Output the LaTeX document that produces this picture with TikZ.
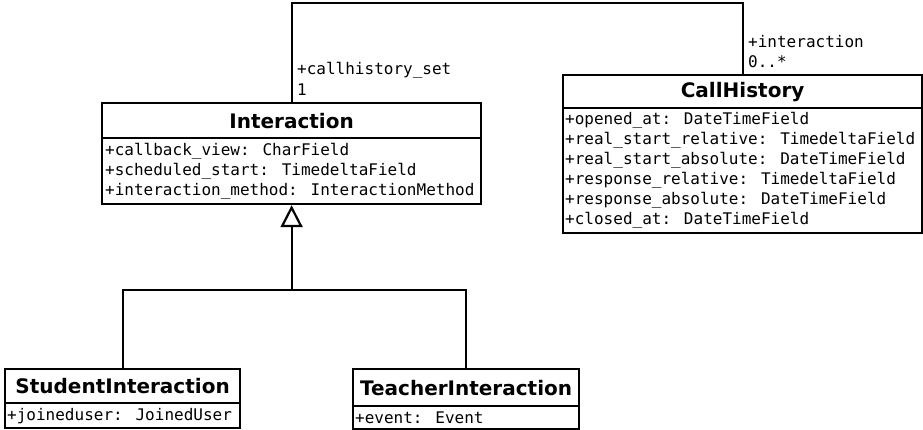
\documentclass[tikz,border=0pt]{standalone}
\usepackage{fontspec}
\usetikzlibrary{arrows.meta}
\newfontfamily\monof{DejaVu Sans Mono}
\newfontfamily\titlef{DejaVu Sans}
\begin{document}
\begin{tikzpicture}[x=1pt,y=-1pt,
  ln/.style={line width=2.2pt,black},
  hdr/.style={draw,ln,rectangle,anchor=north west,inner sep=0pt,font=\titlef\bfseries\fontsize{20}{24}\selectfont},
  bodybox/.style={draw,ln,rectangle,anchor=north west,inner sep=0pt},
  attrs/.style={anchor=west,inner sep=0pt,align=left,font=\monof\fontsize{16}{20}\selectfont},
  lbl/.style={anchor=west,inner sep=0pt,font=\monof\fontsize{16}{20}\selectfont},
  gen/.style={ln,-{Triangle[open,length=22pt,width=22pt,line width=2.2pt]}}
]
\useasboundingbox (0,0) rectangle (923,430);
% Interaction
\node[hdr,minimum width=379pt,minimum height=35pt] (ih) at (101,102) {Interaction};
\node[bodybox,minimum width=379pt,minimum height=66pt] (ib) at (101,137) {};
\node[attrs] (ibt) at ([xshift=4pt]ib.west) {+callback\_view: CharField\\+scheduled\_start: TimedeltaField\\+interaction\_method: InteractionMethod};
% CallHistory
\node[hdr,minimum width=359pt,minimum height=33pt] (ch) at (562,74) {CallHistory};
\node[bodybox,minimum width=359pt,minimum height=125pt] (cb) at (562,107) {};
\node[attrs] (cbt) at ([xshift=3pt]cb.west) {+opened\_at: DateTimeField\\+real\_start\_relative: TimedeltaField\\+real\_start\_absolute: DateTimeField\\+response\_relative: TimedeltaField\\+response\_absolute: DateTimeField\\+closed\_at: DateTimeField};
% StudentInteraction
\node[hdr,minimum width=235pt,minimum height=34pt] (sh) at (4,368) {StudentInteraction};
\node[bodybox,minimum width=235pt,minimum height=25pt] (sb) at (4,402) {};
\node[attrs] (sbt) at ([xshift=3pt]sb.west) {+joineduser: JoinedUser};
% TeacherInteraction
\node[hdr,minimum width=226pt,minimum height=37pt] (th) at (352,368) {TeacherInteraction};
\node[bodybox,minimum width=226pt,minimum height=23pt] (tb) at (352,405) {};
\node[attrs] (tbt) at ([xshift=3pt]tb.west) {+event: Event};
% association
\coordinate (top) at (0,3);
\draw[ln] (ih.north) |- (ch.north |- top) -- (ch.north);
\node[lbl] (l1) at (297,70) {+callhistory\_set};
\node[lbl] (l2) at (297,90) {1};
\node[lbl] (l3) at (748,42) {+interaction};
\node[lbl] (l4) at (748,62) {0..*};
% generalization
\coordinate (j) at (ib.south |- 0,290);
\draw[ln] (sh.north) |- (j);
\draw[ln] (th.north) |- (j);
\draw[gen] (j) -- (ib.south);
\end{tikzpicture}
\end{document}
